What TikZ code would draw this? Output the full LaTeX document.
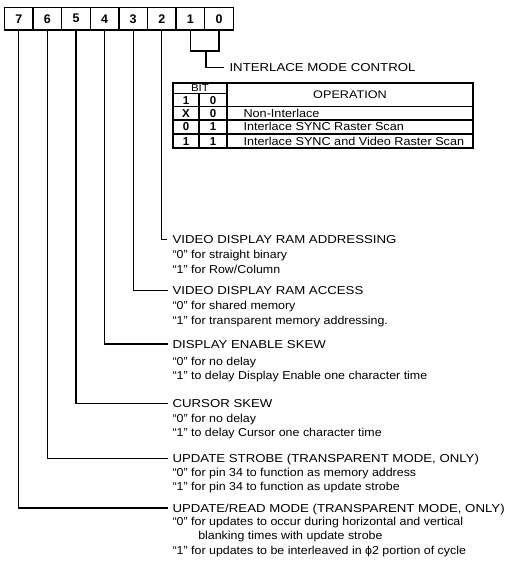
\documentclass[tikz,border=0pt]{standalone}
\usepackage{fontspec}
\setmainfont{Liberation Sans}
\newfontfamily\capf[FakeStretch=1.15]{Liberation Sans}
\newfontfamily\lowf[FakeStretch=1.08]{Liberation Sans}
\newfontfamily\tabf[FakeStretch=1.1]{Liberation Sans}
\begin{document}
\begin{tikzpicture}[x=1pt,y=-1pt,line width=1.1pt,
  cell/.style={draw,line width=1.5pt,minimum width=28.6pt,minimum height=22.5pt,inner sep=0pt,
    font=\fontsize{12.5}{13}\bfseries\selectfont},
  ttl/.style={anchor=west,inner sep=0pt,text height=8pt,text depth=0pt,font=\fontsize{11.5}{12}\capf},
  sub/.style={anchor=west,inner sep=0pt,text height=8pt,text depth=0pt,font=\fontsize{11.5}{12}\lowf},
  tcap/.style={inner sep=0pt,text height=7pt,text depth=0pt,font=\fontsize{11}{12}\capf},
  tnum/.style={inner sep=0pt,text height=8pt,text depth=0pt,font=\fontsize{11.5}{12}\bfseries\selectfont},
  ttxt/.style={anchor=west,inner sep=0pt,text height=8pt,text depth=0pt,font=\fontsize{11.5}{12}\tabf},
  wire/.style={line width=1.1pt},
  tbl/.style={line width=1.3pt}]
\useasboundingbox (0,0) rectangle (510,575);
% register
\foreach \i in {7,6,5,4,3,2,1,0}{
  \node[cell] (b\i) at ({18.8+(7-\i)*28.6},18.75) {\i};
}
% interlace mode control
\coordinate (j1) at (b1.south |- 0,51);
\coordinate (j0) at (b0.south |- 0,51);
\coordinate (jm) at (206,51);
\draw[wire] (b1.south) -- (j1) -- (j0) -- (b0.south);
\node[ttl] (tim) at (229,67.7) {INTERLACE MODE CONTROL};
\draw[wire] (jm) |- ([xshift=-5.5pt]tim.west);
% table
\draw[tbl] (173,83) rectangle (473,148);
\draw[tbl] (173,93.5) -- (227,93.5);
\draw[tbl] (199,93.5) -- (199,148);
\draw[tbl] (227,83) -- (227,148);
\draw[tbl] (173,106.7) -- (473,106.7);
\draw[tbl] (173,120) -- (473,120);
\draw[tbl] (173,134) -- (473,134);
\node[tcap,font=\fontsize{10}{11}\capf] (hbit) at (200,88.4) {BIT};
\node[tcap] (hop) at (350,95) {OPERATION};
\node[tnum] (h1) at (186,100.3) {1};
\node[tnum] (h0) at (213,100.3) {0};
\node[tnum] (r1a) at (186,113.4) {X};
\node[tnum] (r1b) at (213,113.4) {0};
\node[ttxt] (r1c) at (243,113.4) {Non-Interlace};
\node[tnum] (r2a) at (186,127) {0};
\node[tnum] (r2b) at (213,127) {1};
\node[ttxt] (r2c) at (243,127) {Interlace SYNC Raster Scan};
\node[tnum] (r3a) at (186,141) {1};
\node[tnum] (r3b) at (213,141) {1};
\node[ttxt] (r3c) at (243,141) {Interlace SYNC and Video Raster Scan};
% bit 2
\node[ttl] (t2) at (172,239.5) {VIDEO DISPLAY RAM ADDRESSING};
\node[sub] (d2a) at (172,254.5) {“0” for straight binary};
\node[sub] (d2b) at (172,269) {“1” for Row/Column};
\draw[wire] (b2.south) |- ([xshift=-5.5pt]t2.west);
% bit 3
\node[ttl] (t3) at (172,290.3) {VIDEO DISPLAY RAM ACCESS};
\node[sub] (d3a) at (172,305.5) {“0” for shared memory};
\node[sub] (d3b) at (172,320.3) {“1” for transparent memory addressing.};
\draw[wire] (b3.south) |- ([xshift=-4pt]t3.west);
% bit 4
\node[ttl] (t4) at (172,344) {DISPLAY ENABLE SKEW};
\node[sub] (d4a) at (172,361) {“0” for no delay};
\node[sub] (d4b) at (172,375) {“1” to delay Display Enable one character time};
\draw[wire] (b4.south) |- ([xshift=-4pt]t4.west);
% bit 5
\node[ttl] (t5) at (172,403.3) {CURSOR SKEW};
\node[sub] (d5a) at (172,418) {“0” for no delay};
\node[sub] (d5b) at (172,432.5) {“1” to delay Cursor one character time};
\draw[wire] (b5.south) |- ([xshift=-4pt]t5.west);
% bit 6
\node[ttl] (t6) at (172,458.3) {UPDATE STROBE (TRANSPARENT MODE, ONLY)};
\node[sub] (d6a) at (172,472) {“0” for pin 34 to function as memory address};
\node[sub] (d6b) at (172,486) {“1” for pin 34 to function as update strobe};
\draw[wire] (b6.south) |- ([xshift=-4pt]t6.west);
% bit 7
\node[ttl] (t7) at (172,508) {UPDATE/READ MODE (TRANSPARENT MODE, ONLY)};
\node[sub] (d7a) at (172,521.5) {“0” for updates to occur during horizontal and vertical};
\node[sub] (d7b) at (197.7,535) {blanking times with update strobe};
\node[sub] (d7c) at (172,550) {“1” for updates to be interleaved in ϕ2 portion of cycle};
\draw[wire] (b7.south) |- ([xshift=-4pt]t7.west);
\end{tikzpicture}
\end{document}
